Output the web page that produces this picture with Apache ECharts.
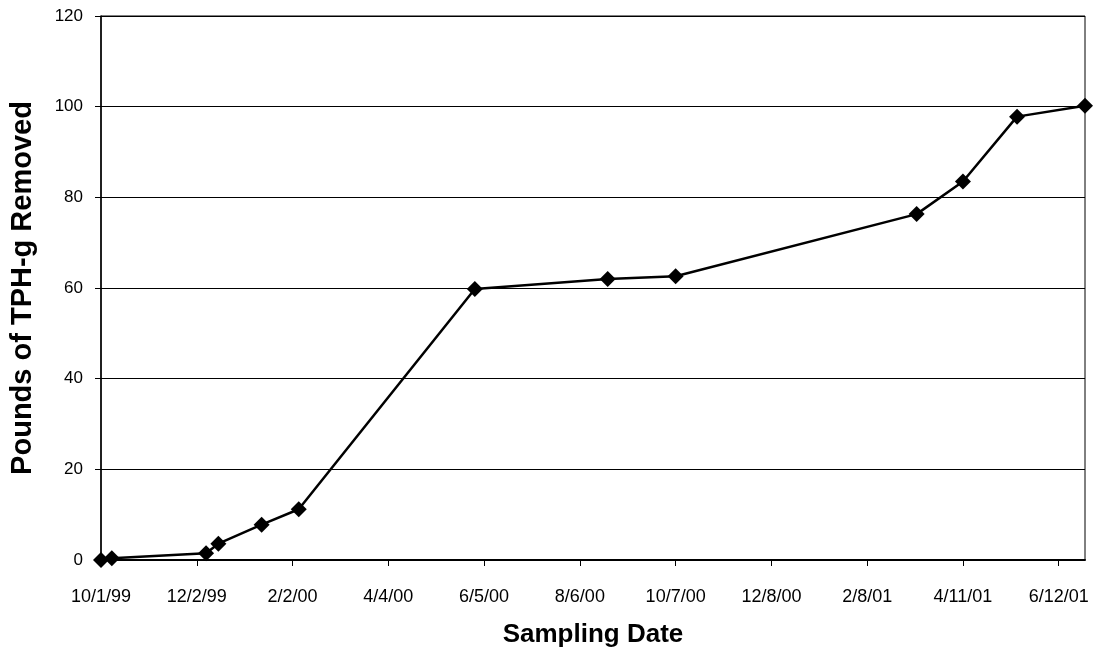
<!DOCTYPE html>
<html>
<head>
<meta charset="utf-8">
<script src="https://cdn.jsdelivr.net/npm/echarts@6/dist/echarts.min.js"></script>
<style>
html,body{margin:0;padding:0;background:#fff;}
#c{width:1093px;height:654px;}
</style>
</head>
<body>
<div id="c"></div>
<script>
// Sampling dates (m/d/yy) and cumulative pounds removed
var sampleDates = ['10/1/99','10/8/99','12/8/99','12/16/99','1/13/00','2/6/00','5/30/00','8/24/00','10/7/00','3/12/01','4/11/01','5/16/01','6/29/01'];
var poundsRemoved = [0, 0.4, 1.5, 3.6, 7.8, 11.2, 59.8, 62.0, 62.6, 76.3, 83.5, 97.8, 100.2];
var tickLabels = ['10/1/99','12/2/99','2/2/00','4/4/00','6/5/00','8/6/00','10/7/00','12/8/00','2/8/01','4/11/01','6/12/01'];
var axisStartDate = '10/1/99';
var axisEndDate = '6/29/01';
var tickDays = 62;

function toUTC(s){
  var p = s.split('/');
  var y = parseInt(p[2],10); y = y < 50 ? 2000 + y : 1900 + y;
  return Date.UTC(y, parseInt(p[0],10)-1, parseInt(p[1],10));
}
var base = toUTC(axisStartDate);
function dayOf(s){ return Math.round((toUTC(s) - base) / 86400000); }

var seriesData = sampleDates.map(function(d,i){ return [dayOf(d), poundsRemoved[i]]; });

var chart = echarts.init(document.getElementById('c'), null, {renderer:'canvas'});
chart.setOption({
  animation:false,
  backgroundColor:'#fff',
  grid:{left:100, right:8, top:16, bottom:94, show:true, borderColor:'#000', borderWidth:1, containLabel:false},
  xAxis:{
    type:'value', min:0, max:dayOf(axisEndDate), interval:tickDays,
    name:'Sampling Date', nameLocation:'middle', nameGap:62,
    nameTextStyle:{fontFamily:'Liberation Sans, Arial, sans-serif', fontWeight:'bold', fontSize:26, color:'#000'},
    axisLine:{show:true, lineStyle:{color:'#000', width:2}},
    axisTick:{show:true, length:6, lineStyle:{color:'#000', width:1}},
    axisLabel:{
      margin:28, fontSize:18, color:'#000', fontFamily:'Liberation Sans, Arial, sans-serif',
      showMaxLabel:false,
      formatter:function(v){
        var k = v / tickDays;
        if (Math.abs(k - Math.round(k)) < 1e-6 && tickLabels[Math.round(k)] !== undefined) return tickLabels[Math.round(k)];
        return '';
      }
    },
    splitLine:{show:false}
  },
  yAxis:{
    type:'value', min:0, max:120, interval:20,
    name:'Pounds of TPH-g Removed', nameLocation:'middle', nameGap:64,
    nameTextStyle:{fontFamily:'Liberation Sans, Arial, sans-serif', fontWeight:'bold', fontSize:29, color:'#000'},
    axisLine:{show:true, lineStyle:{color:'#000', width:1.5}},
    axisTick:{show:true, length:6, lineStyle:{color:'#000'}},
    axisLabel:{margin:18, fontSize:17, color:'#000', fontFamily:'Liberation Sans, Arial, sans-serif'},
    splitLine:{show:true, lineStyle:{color:'#000', width:1}}
  },
  series:[{
    type:'line',
    data:seriesData,
    symbol:'diamond', symbolSize:16,
    lineStyle:{color:'#000', width:2.5},
    itemStyle:{color:'#000'},
    clip:false
  }]
});
</script>
</body>
</html>
